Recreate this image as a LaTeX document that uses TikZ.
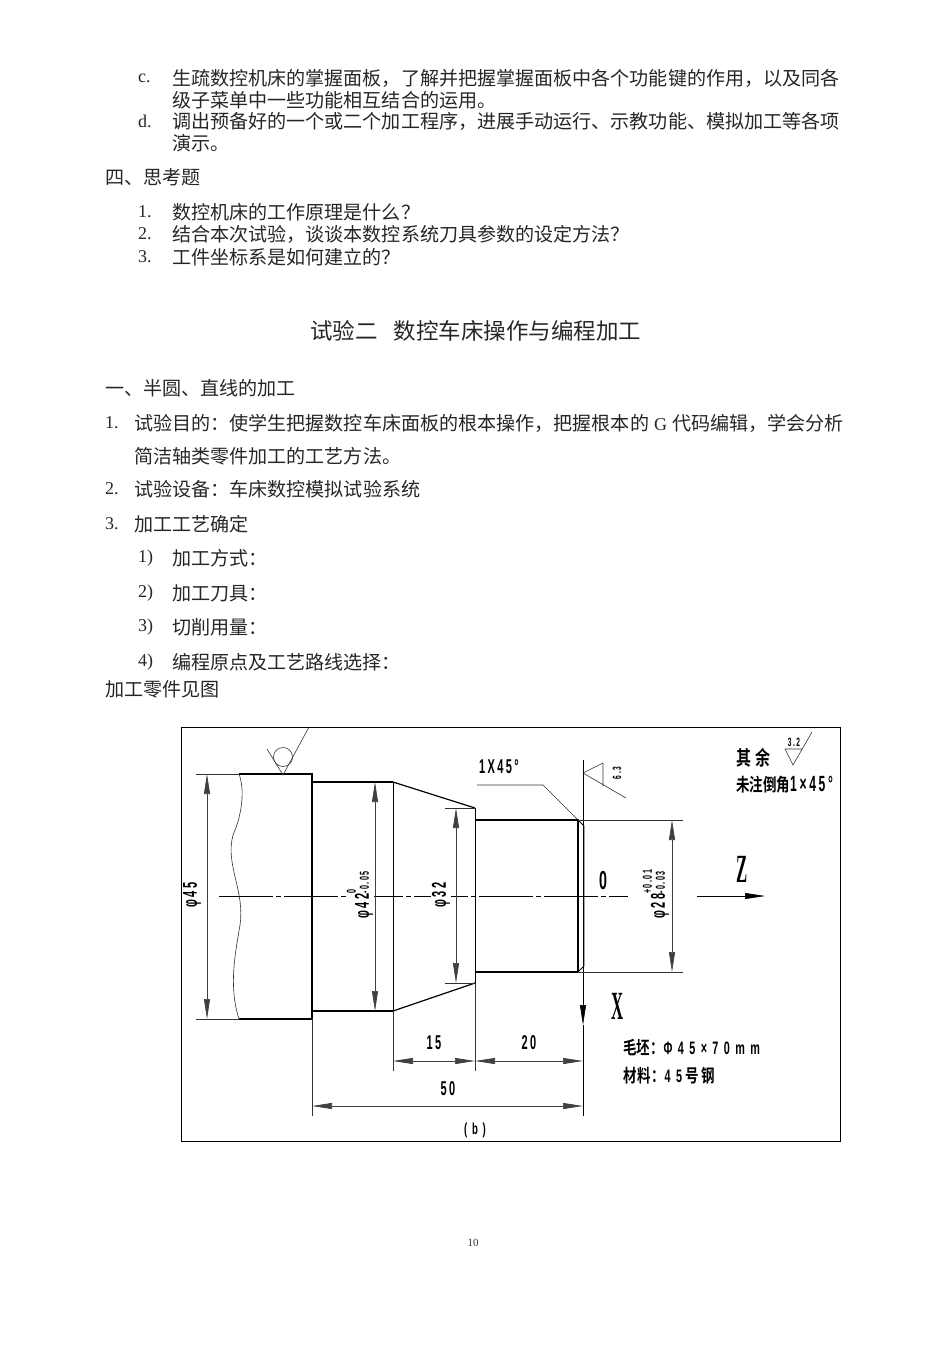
\documentclass[tikz,border=0pt]{standalone}
\usepackage{fontspec}
\setmainfont{Noto Sans CJK SC}
\newfontfamily\latinfont{Liberation Serif}
\newfontfamily\pagefont{Liberation Serif}
\newfontfamily\drawfont[FakeStretch=0.55,LetterSpace=12]{Liberation Sans Bold}
\newfontfamily\widefont[FakeStretch=0.6,LetterSpace=30]{Liberation Sans Bold}
\newfontfamily\bigfont[FakeStretch=0.42]{Liberation Serif Bold}
\newfontfamily\drawcjk[FakeStretch=0.75]{Noto Sans CJK SC Bold}
\usetikzlibrary{arrows.meta,positioning}
\newcommand{\tolpair}[2]{\raisebox{13pt}{\rlap{\fontsize{13}{13}\selectfont #1}}{\fontsize{13}{13}\selectfont #2}}
\begin{document}
\begin{tikzpicture}[x=1pt,y=-1pt,inner sep=0pt,color=black]

 	\tikzstyle{txt}=[anchor=west, text=black!85, font=\fontsize{19.07}{19.07}\selectfont]
 	\tikzstyle{num}=[anchor=west, text=black!85, font=\latinfont\fontsize{18}{18}\selectfont]
 	\tikzstyle{outline}=[line width=1.2pt]
 	\tikzstyle{step line}=[line width=0.7pt]
 	\tikzstyle{fine}=[line width=0.6pt, black!80]
 	\tikzstyle{dimline}=[line width=0.7pt, black!75, {Stealth[length=20pt,width=6pt,inset=0pt]}-{Stealth[length=20pt,width=6pt,inset=0pt]}]
 	\tikzstyle{axis}=[line width=0.6pt, -{Stealth[length=20pt,width=6pt,inset=0pt]}]
 	\tikzstyle{centre}=[line width=0.6pt, dash pattern=on 54pt off 3pt on 5pt off 3pt]
 	\tikzstyle{size}=[font=\drawfont\fontsize{20}{20}\selectfont]
 	\tikzstyle{tiny}=[font=\drawfont\fontsize{12}{12}\selectfont]
 	\tikzstyle{sizev}=[size, rotate=90, fill=white, inner sep=1pt]
 	\tikzstyle{big}=[font=\bigfont\fontsize{40}{40}\selectfont]
 	\tikzstyle{note}=[anchor=west, font=\drawcjk\fontsize{18}{18}\selectfont]

 	\useasboundingbox (0,0) rectangle (950,1345);

 	% page text
 	\node[num] (nc) at (138,78) {c.};
 	\node[txt] (t1) at (172,78) {生疏数控机床的掌握面板，了解并把握掌握面板中各个功能键的作用，以及同各};
 	\node[txt] (t2) at (172,100) {级子菜单中一些功能相互结合的运用。};
 	\node[num] (nd) at (138,121) {d.};
 	\node[txt] (t3) at (172,121) {调出预备好的一个或二个加工程序，进展手动运行、示教功能、模拟加工等各项};
 	\node[txt] (t4) at (172,143) {演示。};
 	\node[txt] (h4) at (105,177) {四、思考题};
 	\node[num] (n1) at (138,212) {1.};
 	\node[txt] (q1) at (172,212) {数控机床的工作原理是什么？};
 	\node[num] (n2) at (138,234) {2.};
 	\node[txt] (q2) at (172,234) {结合本次试验，谈谈本数控系统刀具参数的设定方法？};
 	\node[num] (n3) at (138,257) {3.};
 	\node[txt] (q3) at (172,257) {工件坐标系是如何建立的？};
 	\node[txt, font=\fontsize{22.5}{22.5}\selectfont] (title) at (310,331) {试验二\hspace{16pt}数控车床操作与编程加工};
 	\node[txt] (h1) at (105,388) {一、半圆、直线的加工};
 	\node[num] (m1) at (105,423) {1.};
 	\node[txt] (s1) at (134,423) {试验目的：使学生把握数控车床面板的根本操作，把握根本的{\latinfont\fontsize{18}{18}\selectfont\hspace{5pt}G\hspace{5pt}}代码编辑，学会分析};
 	\node[txt] (s1b) at (134,456) {简洁轴类零件加工的工艺方法。};
 	\node[num] (m2) at (105,489) {2.};
 	\node[txt] (s2) at (134,489) {试验设备：车床数控模拟试验系统};
 	\node[num] (m3) at (105,524) {3.};
 	\node[txt] (s3) at (134,524) {加工工艺确定};
 	\node[num] (k1) at (138,558) {1)};
 	\node[txt] (p1) at (172,558) {加工方式：};
 	\node[num] (k2) at (138,593) {2)};
 	\node[txt] (p2) at (172,593) {加工刀具：};
 	\node[num] (k3) at (138,627) {3)};
 	\node[txt] (p3) at (172,627) {切削用量：};
 	\node[num] (k4) at (138,662) {4)};
 	\node[txt] (p4) at (172,662) {编程原点及工艺路线选择：};
 	\node[txt] (see) at (105,689) {加工零件见图};
 	\node[font=\pagefont\fontsize{11}{11}\selectfont, text=black!80] (page) at (473,1243) {10};

 	% frame
 	\draw[line width=0.9pt] (181,727) rectangle (840,1141);

 	% part corners
 	\coordinate (a1) at (239,774);
 	\coordinate (a2) at (312,774);
 	\coordinate (a3) at (312,1019);
 	\coordinate (a4) at (239,1019);
 	\coordinate (b1) at (312,782);
 	\coordinate (b2) at (393,782);
 	\coordinate (b3) at (393,1011);
 	\coordinate (b4) at (312,1011);
 	\coordinate (c1) at (475,808);
 	\coordinate (c2) at (475,983);
 	\coordinate (d1) at (475,820);
 	\coordinate (d2) at (578,820);
 	\coordinate (d3) at (578,972);
 	\coordinate (d4) at (475,972);
 	\coordinate (e1) at (584,826);
 	\coordinate (e2) at (584,966);

 	\draw[outline] (a4) -- (a3) -- (a2) -- (a1);
 	\draw[outline] (b1) -- (b2);
 	\draw[outline] (b3) -- (b4);
 	\draw[outline] (b2) -- (c1);
 	\draw[outline] (b3) -- (c2);
 	\draw[step line] (b2) -- (b3);
 	\draw[step line] (c1) -- (c2);
 	\draw[outline] (d1) -- (d2) -- (d3) -- (d4);
 	\draw[line width=0.8pt] (d2) -- (e1) -- (e2) -- (d3);
 	\draw[fine] (a1) .. controls (245,790) and (242,815) .. (233,835) .. controls (225,865) and (245,890) .. (240,925) .. controls (236,950) and (228,985) .. (a4);

 	% centre line and axes
 	\coordinate (o1) at (219,896);
 	\coordinate (o2) at (628,896);
 	\coordinate (z1) at (697,896);
 	\coordinate (z2) at (765,896);
 	\coordinate (x1) at (583,760);
 	\coordinate (x2) at (583,1025);
 	\coordinate (x3) at (583,1116);
 	\draw[centre] (o1) -- (o2);
 	\draw[axis] (z1) -- (z2);
 	\draw[axis] (x1) -- (x2);
 	\draw[line width=0.6pt] (x2) -- (x3);

 	% extension lines
 	\coordinate (f1) at (196,774);
 	\coordinate (f2) at (196,1019);
 	\coordinate (f3) at (445,808);
 	\coordinate (f4) at (445,983);
 	\coordinate (f5) at (683,820);
 	\coordinate (f6) at (683,972);
 	\coordinate (g1) at (393,1071);
 	\coordinate (g2) at (475,1071);
 	\coordinate (g3) at (312,1116);
 	\draw[fine] (f1) -- (a1);
 	\draw[fine] (f2) -- (a4);
 	\draw[fine] (f3) -- (c1);
 	\draw[fine] (f4) -- (c2);
 	\draw[fine] (d2) -- (f5);
 	\draw[fine] (d3) -- (f6);
 	\draw[fine] (b3) -- (g1);
 	\draw[fine] (c2) -- (g2);
 	\draw[fine] (a3) -- (g3);

 	% dimensions
 	\coordinate (h45a) at (207,774);
 	\coordinate (h45b) at (207,1019);
 	\coordinate (h42a) at (375,782);
 	\coordinate (h42b) at (375,1011);
 	\coordinate (h32a) at (456,808);
 	\coordinate (h32b) at (456,983);
 	\coordinate (h28a) at (672,820);
 	\coordinate (h28b) at (672,972);
 	\coordinate (w1) at (393,1061);
 	\coordinate (w2) at (475,1061);
 	\coordinate (w3) at (583,1061);
 	\coordinate (w4) at (312,1106);
 	\coordinate (w5) at (583,1106);
 	\draw[dimline] (h45a) -- (h45b);
 	\draw[dimline] (h42a) -- (h42b);
 	\draw[dimline] (h32a) -- (h32b);
 	\draw[dimline] (h28a) -- (h28b);
 	\draw[dimline] (w1) -- (w2);
 	\draw[dimline] (w2) -- (w3);
 	\draw[dimline] (w4) -- (w5);

 	\node[sizev] (l45) at (192,895) {φ45};
 	\node[sizev] (l42) at (360,895) {φ42\tolpair{0}{-0.05}};
 	\node[sizev] (l32) at (441,895) {φ32};
 	\node[sizev] (l28) at (656,895) {φ28\tolpair{+0.01}{-0.03}};
 	\node[size] (l15) at (434,1043) {15};
 	\node[size] (l20) at (529,1043) {20};
 	\node[size] (l50) at (448,1089) {50};
 	\node[font=\widefont\fontsize{16}{16}\selectfont] (lb) at (475,1130) {(b)};
 	\node[size] (lc) at (499,767) {1X45°};

 	% chamfer leader
 	\coordinate (r1) at (477,785);
 	\coordinate (r2) at (543,785);
 	\draw[fine] (r1) -- (r2) -- (d2);

 	% roughness marks
 	\coordinate (v1) at (267,749);
 	\coordinate (v2) at (283,775);
 	\coordinate (v3) at (309,727);
 	\draw[fine] (v1) -- (v2) -- (v3);
 	\node[draw, circle, fine, minimum size=19pt] (vc) at (283,757) {};

 	\coordinate (u1) at (583,773);
 	\coordinate (u2) at (603,763);
 	\coordinate (u3) at (603,786);
 	\coordinate (u4) at (626,798);
 	\draw[fine] (u3) -- (u2) -- (u1) -- (u4);
 	\node[tiny, rotate=90] (l63) at (617,773) {6.3};

 	\coordinate (y1) at (785,749);
 	\coordinate (y2) at (793,765);
 	\coordinate (y3) at (812,732);
 	\coordinate (y4) at (802,749);
 	\draw[fine] (y4) -- (y1) -- (y2) -- (y3);
 	\node[tiny] (l32r) at (794,742) {3.2};

 	% axis letters and notes
 	\node[font=\drawfont\fontsize{26}{26}\selectfont] (l0) at (603,881) {0};
 	\node[big] (lz) at (742,869) {Z};
 	\node[big] (lx) at (618,1006) {X};
 	\node[note, font=\drawcjk\fontsize{20}{20}\selectfont] (n5) at (736,758) {其\hspace{4pt}余};
 	\node[note] (n6) at (736,785) {未注倒角{\drawfont\fontsize{22}{22}\selectfont 1×45°}};
 	\node[note] (n7) at (623,1048) {毛坯：{\widefont Φ45×70mm}};
 	\node[note] (n8) at (623,1076) {材\hspace{1pt}料：{\widefont 45}\hspace{3pt}号\hspace{3pt}钢};

 	\end{tikzpicture}
\end{document}
